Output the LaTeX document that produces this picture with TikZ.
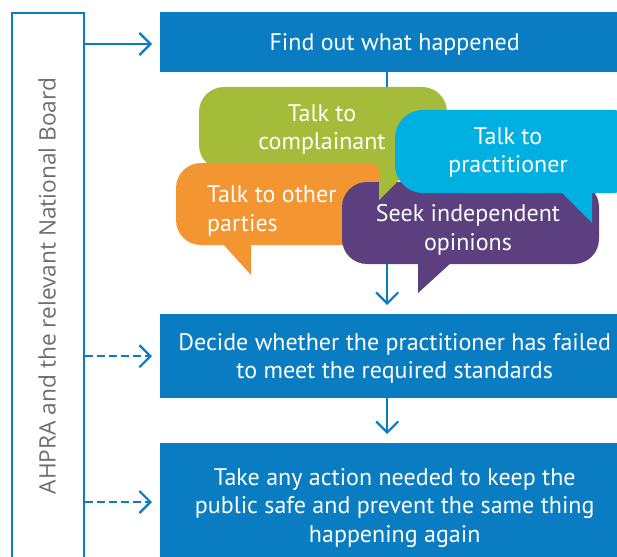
\documentclass[tikz,border=0pt]{standalone}
\usepackage{fontspec}
\setmainfont{PT Sans}
\newfontfamily\labelfont{Open Sans}
\usetikzlibrary{arrows.meta}
\definecolor{ablue}{RGB}{10,125,194}
\definecolor{bgreen}{RGB}{165,188,58}
\definecolor{borange}{RGB}{243,149,48}
\definecolor{bpurple}{RGB}{91,63,126}
\definecolor{bcyan}{RGB}{0,176,224}
\definecolor{lgray}{RGB}{110,110,112}
\tikzset{
  stepbox/.style={fill=ablue, text=white, inner sep=0pt, align=center, text depth=0pt,
    font=\fontsize{24}{28.5}\selectfont},
  btext/.style={text=white, inner sep=0pt, yshift=-2.5pt, font=\fontsize{24}{28.5}\selectfont},
  conn/.style={draw=ablue, line width=2pt, -{Straight Barb[length=11pt,width=22pt,line width=2.2pt]}},
  dconn/.style={conn, dash pattern=on 8pt off 4pt},
}
\begin{document}
\begin{tikzpicture}[x=1pt,y=-1pt]
\useasboundingbox (0,0) rectangle (617,556);
\begin{scope}
\clip (0,0) rectangle (617,556);
% left board frame
\node[draw=ablue, line width=2pt, minimum width=72pt, minimum height=580pt, anchor=north west, inner sep=0pt] (board) at (11,12) {};
\node[rotate=90, text=lgray, inner sep=0pt, font=\labelfont\fontsize{22.7}{26}\selectfont] (lbl) at (47,286) {AHPRA and the relevant National Board};
% step boxes
\node[stepbox, minimum width=469pt, minimum height=60pt, anchor=north west] (find) at (160,12) {Find out what happened};
\node[stepbox, minimum width=469pt, minimum height=84pt, anchor=north west] (decide) at (160,314) {Decide whether the practitioner has failed\\to meet the required standards};
\node[stepbox, minimum width=469pt, minimum height=124pt, anchor=north west] (action) at (160,443) {Take any action needed to keep the\\public safe and prevent the same thing\\happening again};
% connectors
\draw[conn, shorten >=8pt] (board.east |- 0,44) coordinate (a1) -- (a1 -| find.west);
\draw[dconn, shorten >=8pt] (board.east |- decide.west) -- (decide.west);
\draw[dconn, shorten >=8pt] (board.east |- 0,502) coordinate (a3) -- (a3 -| action.west);
\draw[conn, shorten >=9pt] ([xshift=-7.5pt]find.south) -- ([xshift=-7.5pt]decide.north);
\draw[conn, shorten >=9pt] ([xshift=-7.5pt]decide.south) -- ([xshift=-7.5pt]action.north);
% speech bubbles
\fill[bgreen, rounded corners=25pt] (199,87) rectangle (447,170);
\fill[borange, rounded corners=25pt] (176,163) rectangle (390,245);
\fill[borange] (222,243) -- (251,275) -- (251,243) -- cycle;
\fill[bpurple, rounded corners=25pt] (342,182) rectangle (599,264);
\fill[bpurple] (418,262) -- (418,293) -- (452,262) -- cycle;
\fill[bgreen] (379,166) -- (379,200) -- (413,166) -- cycle;
\fill[bcyan, rounded corners=28pt] (395,110) rectangle (640,193);
\fill[bcyan] (559,190) -- (592,223) -- (592,190) -- cycle;
% bubble texts
\node[btext, align=center] (t1) at (322,127) {Talk to\\complainant};
\node[btext, align=left, anchor=west] (t2) at (207,208.5) {Talk to other\\parties};
\node[btext, align=center] (t3) at (468,227.5) {Seek independent\\opinions};
\node[btext, align=center] (t4) at (508,150) {Talk to\\practitioner};
\end{scope}
\end{tikzpicture}
\end{document}
